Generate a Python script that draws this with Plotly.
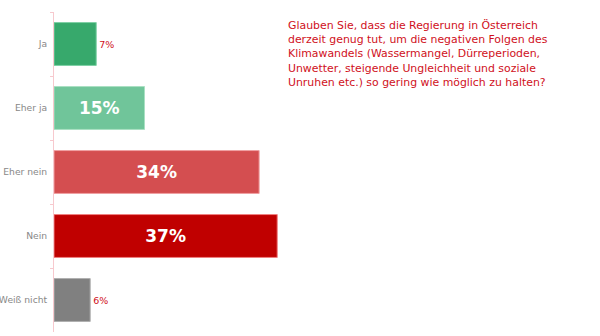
import plotly.graph_objects as go

categories = ["Ja", "Eher ja", "Eher nein", "Nein", "Weiß nicht"]
values = [7, 15, 34, 37, 6]
labels = ["7%", "15%", "34%", "37%", "6%"]
colors = ["#37a96c", "#70c59a", "#d44e50", "#c00000", "#808080"]
line_colors = ["#7fd0a5", "#a9e0c3", "#f0a0a2", "#f08080", "#b0b0b0"]
positions = ["outside", "inside", "inside", "inside", "outside"]
question = ("Glauben Sie, dass die Regierung in Österreich<br>"
            "derzeit genug tut, um die negativen Folgen des<br>"
            "Klimawandels (Wassermangel, Dürreperioden,<br>"
            "Unwetter, steigende Ungleichheit und soziale<br>"
            "Unruhen etc.) so gering wie möglich zu halten?")

L = 54
W = 600 - L - 3

fig = go.Figure(go.Bar(
    y=categories, x=values, orientation="h",
    marker=dict(color=colors, line=dict(color=line_colors, width=1)),
    text=labels, textposition=positions,
    insidetextanchor="middle",
    insidetextfont=dict(family="DejaVu Sans", size=17, color="white", weight="bold"),
    outsidetextfont=dict(family="DejaVu Sans", size=9.5, color="#d0101b"),
    cliponaxis=False,
    hoverinfo="skip",
))

fig.update_layout(
    width=600, height=336,
    margin=dict(l=L, r=3, t=12, b=4),
    paper_bgcolor="white", plot_bgcolor="white",
    bargap=0.33,
    showlegend=False,
    font=dict(family="DejaVu Sans"),
    xaxis=dict(range=[0, 90], visible=False, showgrid=False, zeroline=False,
               automargin=False),
    yaxis=dict(
        categoryorder="array", categoryarray=categories, autorange="reversed",
        automargin=False,
        showline=True, linecolor="#f7c9ce", linewidth=1,
        ticks="outside", tickson="boundaries", ticklen=3, tickcolor="#f7c9ce",
        ticklabelstandoff=4,
        tickfont=dict(family="DejaVu Sans", size=9.2, color="#888888"),
        showgrid=False, zeroline=False,
    ),
    annotations=[dict(
        text=question, xref="paper", yref="paper",
        x=(286 - L) / W, y=(332 - 17) / 320,
        xanchor="left", yanchor="top", align="left", showarrow=False,
        font=dict(family="DejaVu Sans", size=10.9, color="#d0101b"),
    )],
)

fig.write_html("out.html")
